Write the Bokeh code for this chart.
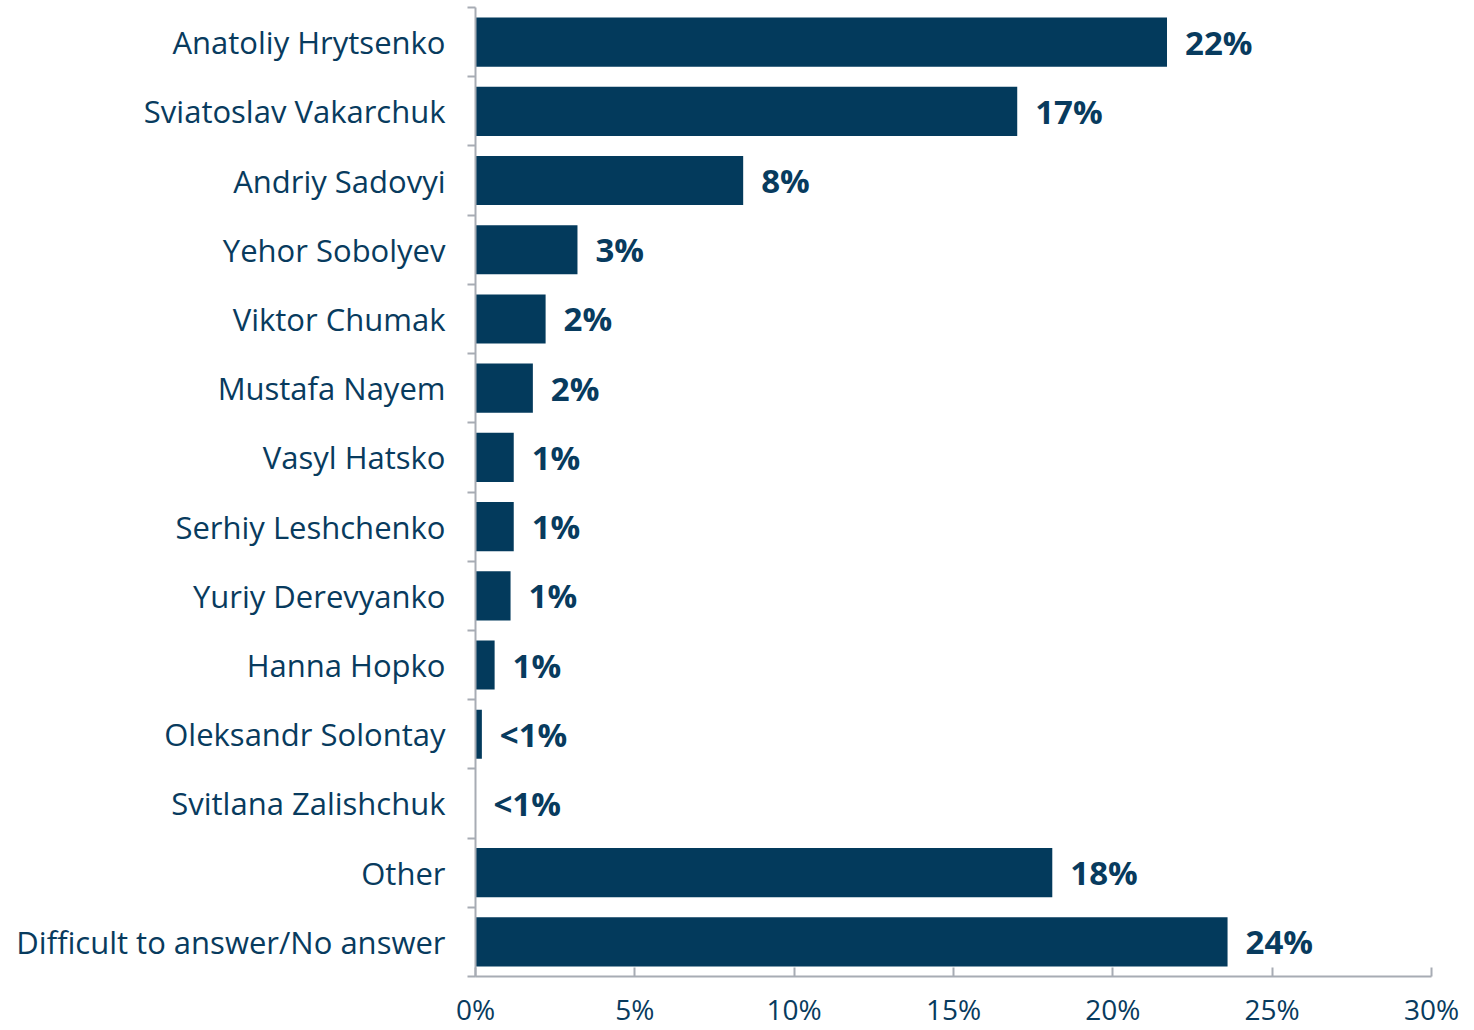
from bokeh.plotting import figure
from bokeh.models import FixedTicker, ColumnDataSource, NumeralTickFormatter, Range1d
from bokeh.core.properties import value
from bokeh.embed import file_html
from bokeh.resources import INLINE

categories = ["Anatoliy Hrytsenko", "Sviatoslav Vakarchuk", "Andriy Sadovyi", "Yehor Sobolyev",
              "Viktor Chumak", "Mustafa Nayem", "Vasyl Hatsko", "Serhiy Leshchenko",
              "Yuriy Derevyanko", "Hanna Hopko", "Oleksandr Solontay", "Svitlana Zalishchuk",
              "Other", "Difficult to answer/No answer"]
values = [21.7, 17.0, 8.4, 3.2, 2.2, 1.8, 1.2, 1.2, 1.1, 0.6, 0.2, 0.0, 18.1, 23.6]
labels = ["22%", "17%", "8%", "3%", "2%", "2%", "1%", "1%", "1%", "1%", "<1%", "<1%", "18%", "24%"]
x_ticks = [0, 5, 10, 15, 20, 25, 30]

n = len(categories)
ypos = [n - 0.5 - i for i in range(n)]
src = ColumnDataSource(dict(y=ypos, v=values, lab=labels, cat=categories))

FONT = "Open Sans"
NAVY = "#033A5C"
TXT = "#083B5E"
GRAY = "#A7ACB4"

p = figure(width=1470, height=1030, output_backend="svg", toolbar_location=None,
           x_range=Range1d(0, 30), y_range=Range1d(0, n),
           min_border_left=475, min_border_right=39, min_border_top=7, min_border_bottom=54)
p.outline_line_color = None
p.grid.grid_line_color = None
p.background_fill_color = "white"

p.hbar(y="y", right="v", left=0, height=0.71, source=src, color=NAVY, line_color=None)
p.text(x="v", y="y", text="lab", source=src, x_offset=18, text_align="left",
       text_baseline="middle", text_font=value(FONT), text_font_style="bold",
       text_font_size="33px", text_color=TXT)

p.yaxis.ticker = FixedTicker(ticks=ypos, minor_ticks=list(range(0, n + 1)))
p.yaxis.major_label_overrides = {y: c for y, c in zip(ypos, categories)}
p.yaxis.major_tick_out = 0
p.yaxis.major_tick_in = 0
p.yaxis.minor_tick_out = 8
p.yaxis.minor_tick_in = 0
p.yaxis.minor_tick_line_color = GRAY
p.yaxis.minor_tick_line_width = 2
p.yaxis.axis_line_color = GRAY
p.yaxis.axis_line_width = 2
p.yaxis.major_label_standoff = 22
p.yaxis.major_label_text_font = FONT
p.yaxis.major_label_text_font_size = "31px"
p.yaxis.major_label_text_color = TXT

p.xaxis.ticker = FixedTicker(ticks=x_ticks, minor_ticks=[])
p.xaxis.formatter = NumeralTickFormatter(format="0")
p.xaxis.major_label_overrides = {t: f"{t}%" for t in x_ticks}
p.xaxis.major_tick_out = 0
p.xaxis.major_tick_in = 9
p.xaxis.major_tick_line_color = GRAY
p.xaxis.major_tick_line_width = 2
p.xaxis.axis_line_color = GRAY
p.xaxis.axis_line_width = 2
p.xaxis.major_label_standoff = 13
p.xaxis.major_label_text_font = FONT
p.xaxis.major_label_text_font_size = "28px"
p.xaxis.major_label_text_color = TXT

open("out.html", "w").write(file_html(p, INLINE))
